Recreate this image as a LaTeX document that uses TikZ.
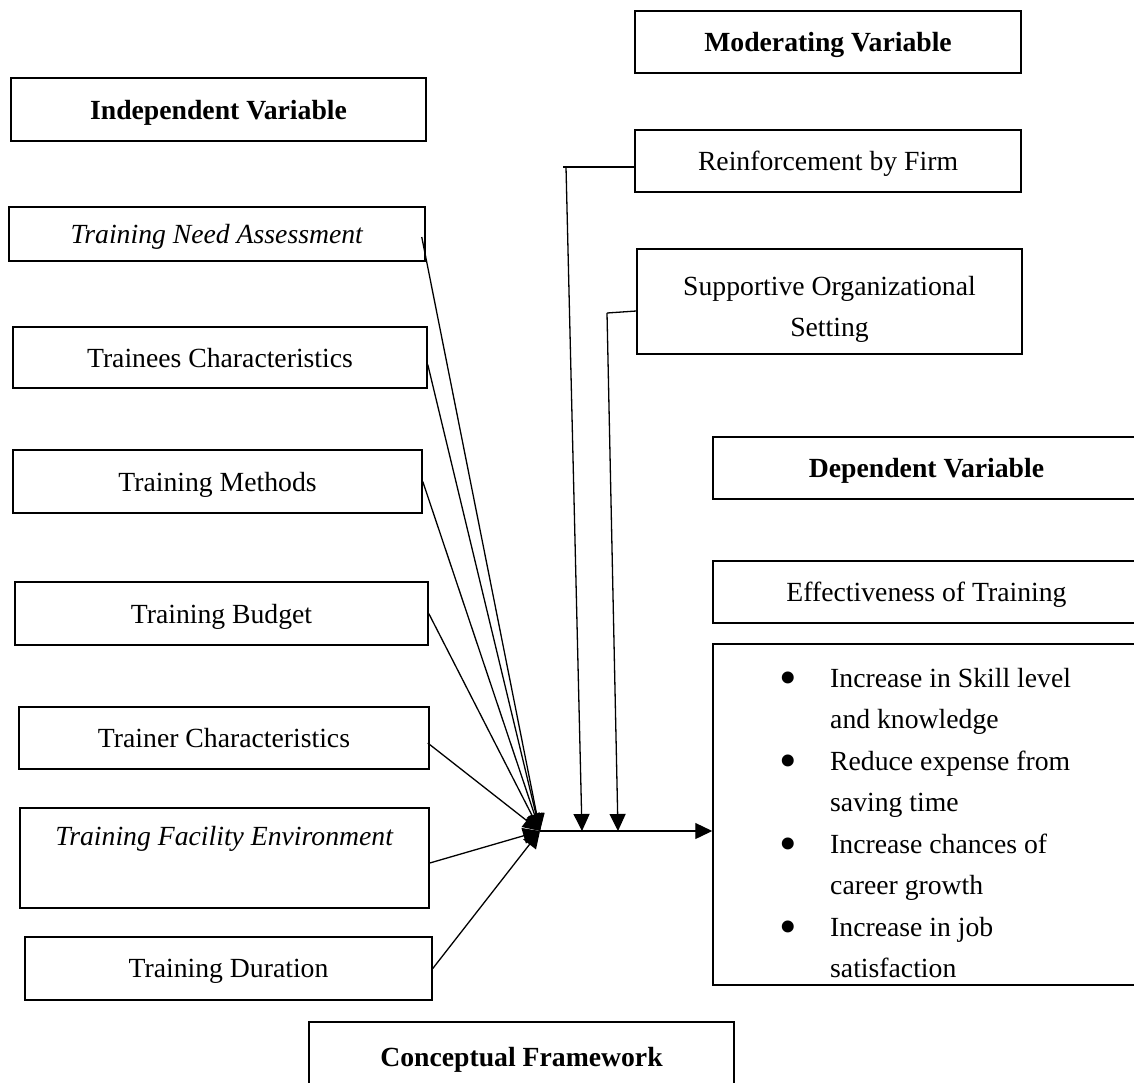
\documentclass[tikz,border=0pt]{standalone}
\usepackage{fontspec}
\setmainfont{Liberation Serif}
\usetikzlibrary{positioning,arrows.meta}
\tikzstyle{block} = [rectangle, draw, line width=1.5pt, align=center, inner sep=0pt, text depth=0pt]
\tikzstyle{line} = [draw, line width=1.3pt, -{Triangle[length=17pt,width=16pt]}]
\tikzstyle{link} = [draw, line width=1.3pt]
\newcommand{\bigbullet}{\raisebox{-7pt}{\fontsize{50}{50}\selectfont\textbullet}}

\begin{document}
\begin{tikzpicture}[x=1pt, y=-1pt, font=\fontsize{27.7}{41.5}\selectfont]
    \clip (0,0) rectangle (1134,1082);
    % Place nodes
    \node [block, minimum width=415pt, minimum height=63pt] (ind) at (218.5,109.5) {\textbf{Independent Variable}};
    \node [block, minimum width=416pt, minimum height=54pt] (tna) at (217,234) {\textit{Training Need Assessment}};
    \node [block, minimum width=414pt, minimum height=61pt] (trc) at (220,357.5) {Trainees Characteristics};
    \node [block, minimum width=409pt, minimum height=63pt] (mth) at (217.5,481.5) {Training Methods};
    \node [block, minimum width=413pt, minimum height=63pt] (bud) at (221.5,613.5) {Training Budget};
    \node [block, minimum width=410pt, minimum height=62pt] (tnr) at (224,738) {Trainer Characteristics};
    \node [block, minimum width=409pt, minimum height=100pt, text depth=12pt] (fac) at (224.5,858) {\strut\textit{Training Facility Environment}\\\strut};
    \node [block, minimum width=407pt, minimum height=63pt] (dur) at (228.5,968.5) {Training Duration};
    \node [block, minimum width=386pt, minimum height=62pt] (mod) at (828,42) {\textbf{Moderating Variable}};
    \node [block, minimum width=386pt, minimum height=62pt] (rbf) at (828,161) {Reinforcement by Firm};
    \node [block, minimum width=385pt, minimum height=105pt] (sos) at (829.5,301.5) {\strut Supportive Organizational\\Setting};
    \node [block, minimum width=427pt, minimum height=62pt] (dep) at (926.5,468) {\textbf{Dependent Variable}};
    \node [block, minimum width=427pt, minimum height=62pt] (eff) at (926.5,592) {Effectiveness of Training};
    \node [block, minimum width=427pt, minimum height=341pt] (fx) at (926.5,814.5) {};
    \node [anchor=base west, inner sep=0pt] (fxlist) at (779,687) {%
        \begin{tabular}[t]{@{}p{51pt}@{}l@{}}
        \bigbullet & Increase in Skill level\\
                   & and knowledge\\
        \bigbullet & Reduce expense from\\
                   & saving time\\
        \bigbullet & Increase chances of\\
                   & career growth\\
        \bigbullet & Increase in job\\
                   & satisfaction
        \end{tabular}};
    \node [block, minimum width=425pt, minimum height=70pt] (cf) at (521.5,1057) {\textbf{Conceptual Framework}};
    \coordinate (hub) at (540,831);
    \coordinate (rbfknee) at (566,167);
    \coordinate (rbfend) at (582,831);
    \coordinate (sosknee) at (607,313);
    \coordinate (sosend) at (618,831);
    % Draw edges
    \path [line] ([xshift=-4pt,yshift=-3pt]tna.east) -- (hub);
    \path [line] ([yshift=-7pt]trc.east) -- (hub);
    \path [line] (mth.east) -- (hub);
    \path [line] (bud.east) -- (hub);
    \path [line] ([xshift=-2pt,yshift=-5pt]tnr.east) -- (hub);
    \path [line] ([yshift=-5pt]fac.east) -- (hub);
    \path [line] (dur.east) -- (hub);
    \path [line] (hub) -- (hub -| fx.west);
    \path [link] ([yshift=-6pt]rbf.west) -- ([xshift=-3pt]rbfknee);
    \path [line] (rbfknee) -- (rbfend);
    \path [link] ([yshift=-9.5pt]sos.west) -- (sosknee);
    \path [line] (sosknee) -- (sosend);
\end{tikzpicture}
\end{document}
